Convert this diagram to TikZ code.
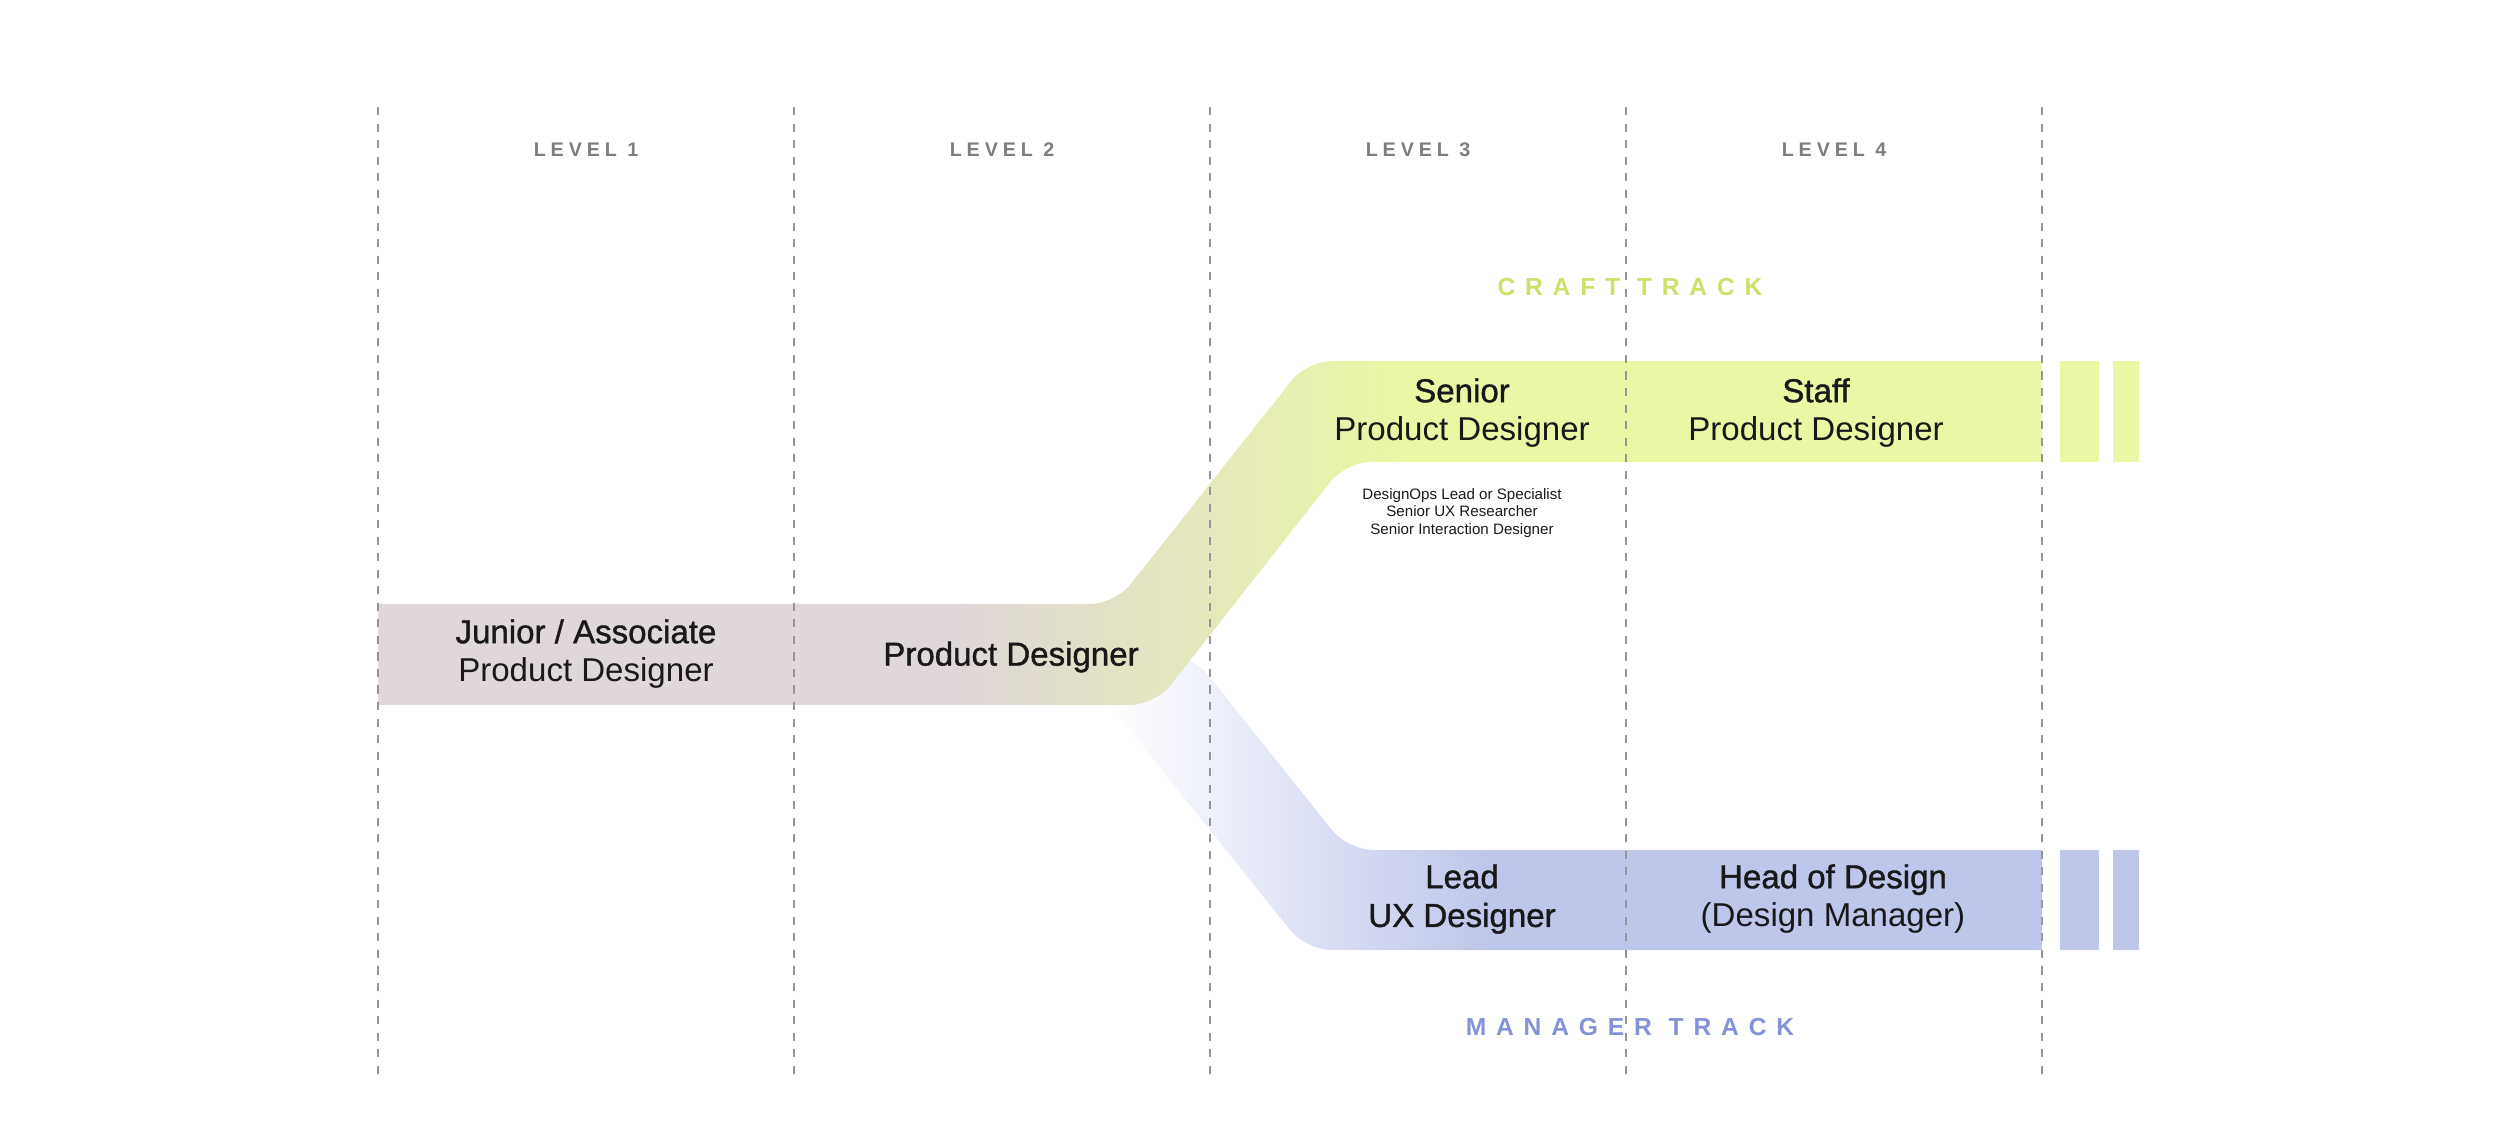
\documentclass[tikz,border=0pt]{standalone}
\usepackage{fontspec}
\setmainfont{Liberation Sans}
\newfontfamily\medfont[FakeBold=1.2]{Liberation Sans}
\newfontfamily\spacedfont[LetterSpace=25.0]{Liberation Sans}
\newfontfamily\trackfont[LetterSpace=40.0]{Liberation Sans}
\definecolor{junior}{RGB}{223,215,216}
\definecolor{craft}{RGB}{234,247,164}
\definecolor{manager}{RGB}{190,198,234}
\definecolor{fade}{RGB}{233,233,240}
\definecolor{crafttext}{RGB}{205,224,105}
\definecolor{managertext}{RGB}{132,146,216}
\definecolor{levelgrey}{RGB}{125,125,125}
\definecolor{gridgrey}{RGB}{150,150,150}
\begin{document}
\begin{tikzpicture}[x=0.01cm, y=-0.01cm,
	grid/.style = {gridgrey, line width=0.6pt, dash pattern=on 2.3pt off 2.4pt},
	level/.style = {levelgrey, font=\spacedfont\bfseries\fontsize{5.6}{6}\selectfont},
	role/.style = {align=center, text=black!90, font=\fontsize{9.4}{11}\selectfont},
	note/.style = {align=center, text=black!90, font=\fontsize{4.3}{5}\selectfont},
	track/.style = {font=\trackfont\bfseries\fontsize{7}{8}\selectfont}]
	\useasboundingbox (0,0) rectangle (2500,1122);
	% manager track
	\begin{scope}
		\clip [rounded corners=2.5mm] (1070,655) -- (1306,950) -- (2100,950) -- (2100,850) -- (1348,850) -- (1192,655) -- cycle;
		\shade [left color=white, middle color=fade, right color=manager] (1110,640) rectangle (1490,960);
		\fill [manager] (1489,840) rectangle (2042,960);
	\end{scope}
	% junior band and craft track
	\begin{scope}
		\clip [rounded corners=2.5mm] (300,604) -- (1115,604) -- (1307,361) -- (2100,361) -- (2100,462) -- (1346,462) -- (1155,705) -- (300,705) -- cycle;
		\fill [junior] (378,590) rectangle (961,720);
		\shade [left color=junior, right color=craft] (960,340) rectangle (1400,720);
		\fill [craft] (1399,340) rectangle (2042,480);
	\end{scope}
	\fill [craft] (2060,361) rectangle (2099,462);
	\fill [craft] (2113,361) rectangle (2139,462);
	\fill [manager] (2060,850) rectangle (2099,950);
	\fill [manager] (2113,850) rectangle (2139,950);
	\foreach \x in {378,794,1210,1626,2042}
		\draw [grid] (\x,107) -- (\x,1078);
	\foreach \n/\x in {1/586,2/1002,3/1418,4/1834}
		\node [level] (level\n) at (\x,150) {LEVEL \n};
	\node [track, crafttext] (crafttrack) at (1630,287) {CRAFT TRACK};
	\node [track, managertext] (managertrack) at (1630,1027) {MANAGER TRACK};
	\node [role] (junior) at (586,654) {{\medfont Junior / Associate}\\Product Designer};
	\node [role] (designer) at (1011,657) {\medfont Product Designer};
	\node [role] (senior) at (1462,413) {{\medfont Senior}\\Product Designer};
	\node [role] (staff) at (1816,413) {{\medfont Staff}\\Product Designer};
	\node [note] (others) at (1462,513) {DesignOps Lead or Specialist\\Senior UX Researcher\\Senior Interaction Designer};
	\node [role] (lead) at (1462,899) {{\medfont Lead}\\{\medfont UX Designer}};
	\node [role] (head) at (1833,899) {{\medfont Head of Design}\\(Design Manager)};
\end{tikzpicture}
\end{document}
